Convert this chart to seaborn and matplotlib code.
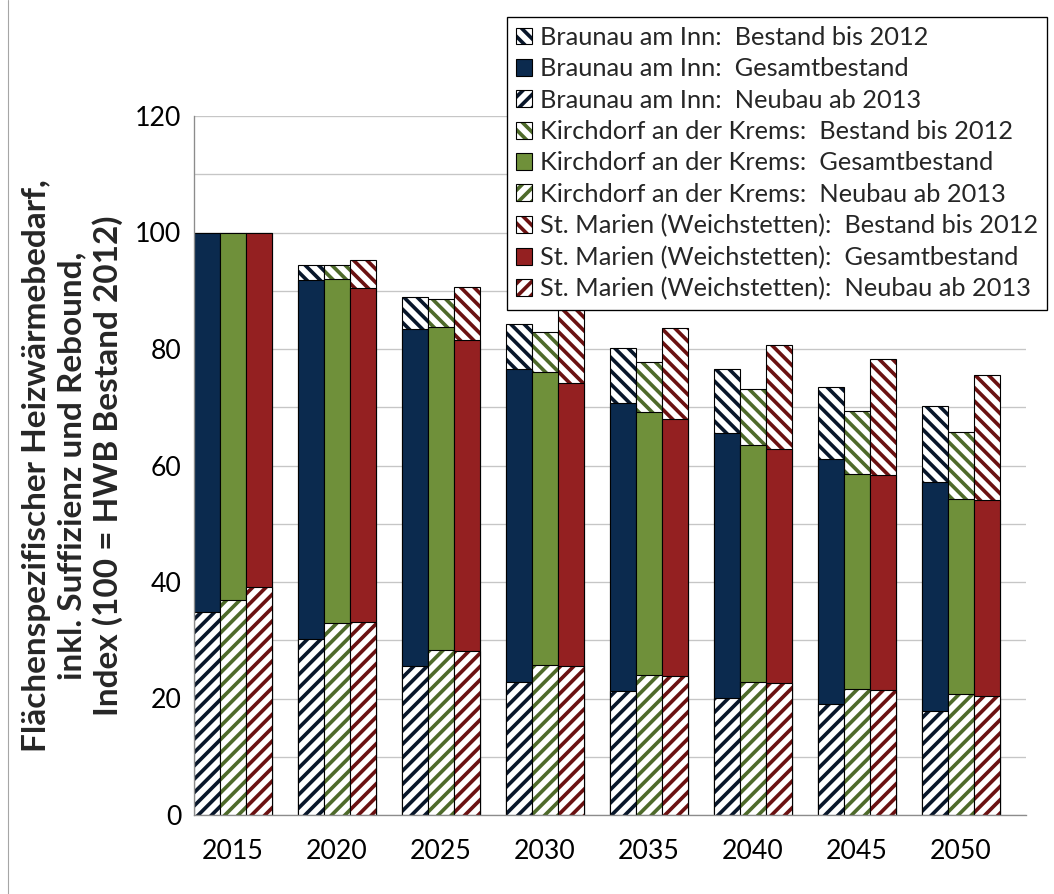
"""Flächenspezifischer Heizwärmebedarf: Bestand, Gesamtbestand und Neubau je Gemeinde."""

import matplotlib

matplotlib.use("Agg")

import matplotlib.pyplot as plt
import pandas as pd
import seaborn as sns
from matplotlib.lines import Line2D
from matplotlib.ticker import FixedLocator, MultipleLocator

years = ["2015", "2020", "2025", "2030", "2035", "2040", "2045", "2050"]
regions = ["Braunau am Inn", "Kirchdorf an der Krems", "St. Marien (Weichstetten)"]

braunau_bestand = [100, 94.5, 88.9, 84.3, 80.2, 76.6, 73.4, 70.2]
braunau_gesamt = [100, 91.8, 83.5, 76.6, 70.7, 65.6, 61.2, 57.2]
braunau_neubau = [34.9, 30.3, 25.5, 22.9, 21.3, 20.1, 19.1, 17.9]

kirchdorf_bestand = [100, 94.5, 88.5, 82.9, 77.7, 73.1, 69.3, 65.8]
kirchdorf_gesamt = [100, 92.0, 83.7, 76.0, 69.2, 63.5, 58.6, 54.2]
kirchdorf_neubau = [36.9, 33.0, 28.3, 25.7, 24.0, 22.8, 21.7, 20.8]

marien_bestand = [100, 95.3, 90.6, 86.8, 83.6, 80.7, 78.2, 75.5]
marien_gesamt = [100, 90.5, 81.5, 74.1, 68.0, 62.9, 58.3, 54.0]
marien_neubau = [39.2, 33.1, 28.1, 25.5, 23.9, 22.6, 21.5, 20.5]

layers = ["Bestand bis 2012", "Gesamtbestand", "Neubau ab 2013"]
series = {
    "Bestand bis 2012": [braunau_bestand, kirchdorf_bestand, marien_bestand],
    "Gesamtbestand": [braunau_gesamt, kirchdorf_gesamt, marien_gesamt],
    "Neubau ab 2013": [braunau_neubau, kirchdorf_neubau, marien_neubau],
}

solid_colors = ["#0b2a4e", "#6f903a", "#942021"]
hatch_colors = ["#08162a", "#4e6a2a", "#6b1111"]
hatches = {"Bestand bis 2012": "\\\\", "Gesamtbestand": None, "Neubau ab 2013": "//"}

sns.set_theme(style="white")
plt.rcParams["font.family"] = ["Lato", "DejaVu Sans"]
plt.rcParams["hatch.linewidth"] = 3.3

DPI = 80
figure, axis = plt.subplots(figsize=(1054 / DPI, 894 / DPI), dpi=DPI)
figure.subplots_adjust(left=194 / 1054, right=1026 / 1054, bottom=1 - 815 / 894, top=1 - 116 / 894)

handles = {}
for layer in layers:
    frame = pd.DataFrame(
        [
            {"year": year, "region": region, "value": value}
            for region, values in zip(regions, series[layer])
            for year, value in zip(years, values)
        ]
    )
    before = len(axis.patches)
    palette = dict(zip(regions, hatch_colors if hatches[layer] else solid_colors))
    sns.barplot(
        data=frame,
        x="year",
        y="value",
        hue="region",
        hue_order=regions,
        order=years,
        palette=palette,
        saturation=1,
        width=0.75,
        errorbar=None,
        edgecolor="black",
        linewidth=1.0,
        hatch=hatches[layer],
        legend=False,
        ax=axis,
    )
    new_patches = axis.patches[before:]
    for index, patch in enumerate(new_patches):
        region = regions[index // len(years)]
        if hatches[layer]:
            stripe = patch.get_facecolor()
            patch.set_facecolor("white")
            patch.set_edgecolor("black")
            patch._hatch_color = stripe
        if index % len(years) == 0:
            handles[(region, layer)] = patch

axis.set_xlim(-0.375, len(years) - 0.375)
axis.set_ylim(0, 120)
axis.yaxis.set_major_locator(MultipleLocator(20))
axis.yaxis.set_minor_locator(MultipleLocator(10))
axis.xaxis.set_minor_locator(FixedLocator([k - 0.375 for k in range(len(years) + 1)]))
axis.set_axisbelow(True)
axis.grid(axis="y", which="both", color="#c6c6c6", linewidth=1.2)

axis.tick_params(axis="x", which="major", length=0, pad=22, labelsize=24, labelcolor="black")
axis.tick_params(axis="x", which="minor", length=6.5, width=1.2, color="#8c8c8c", direction="out")
axis.tick_params(axis="y", which="major", length=6.5, width=1.2, color="#8c8c8c", pad=5, labelsize=24, labelcolor="black")
axis.tick_params(axis="y", which="minor", length=0)

for side in ["top", "right"]:
    axis.spines[side].set_visible(False)
for side in ["left", "bottom"]:
    axis.spines[side].set_color("#8c8c8c")
    axis.spines[side].set_linewidth(1.2)

axis.set_xlabel("")
axis.set_ylabel(
    "Flächenspezifischer Heizwärmebedarf,\ninkl. Suffizienz und Rebound,\nIndex (100 = HWB Bestand 2012)",
    fontsize=30,
    fontweight="bold",
    linespacing=1.25,
)
axis.yaxis.set_label_coords(-0.085, 0.5)

legend_handles = [handles[(region, layer)] for region in regions for layer in layers]
legend_labels = [f"{region}:  {layer}" for region in regions for layer in layers]
legend = figure.legend(
    legend_handles,
    legend_labels,
    loc="upper left",
    bbox_to_anchor=(507 / 1054, 1 - 17 / 894),
    bbox_transform=figure.transFigure,
    fontsize=22.8,
    frameon=True,
    fancybox=False,
    framealpha=1,
    edgecolor="black",
    borderpad=0.35,
    labelspacing=0.33,
    handlelength=0.65,
    handleheight=0.65,
    handletextpad=0.3,
    borderaxespad=0,
)
legend.get_frame().set_linewidth(1.2)

figure.add_artist(
    Line2D([8 / 1054, 8 / 1054], [0, 1], transform=figure.transFigure, color="#a6a6a6", linewidth=1)
)

figure.savefig("out.png", dpi=DPI)
plt.close(figure)
